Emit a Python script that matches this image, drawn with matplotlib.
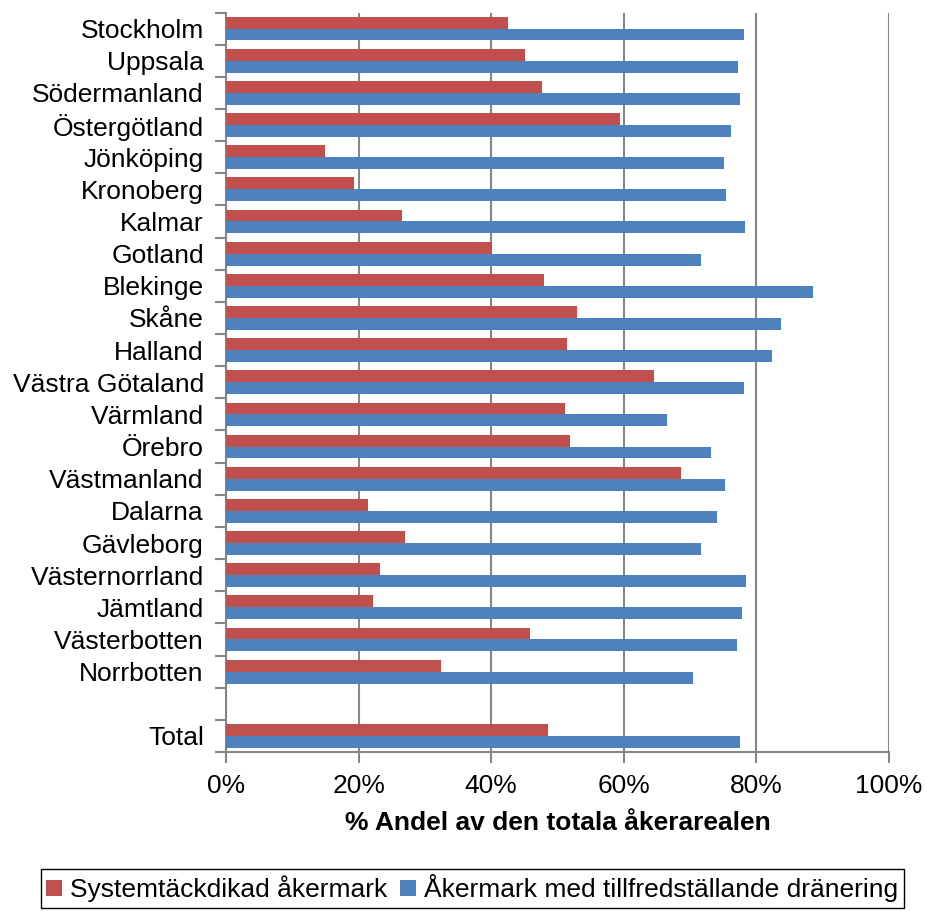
import matplotlib.pyplot as plt
import numpy as np

plt.rcParams['font.family'] = ['Liberation Sans', 'DejaVu Sans']

regions = ["Stockholm", "Uppsala", "Södermanland", "Östergötland", "Jönköping",
           "Kronoberg", "Kalmar", "Gotland", "Blekinge", "Skåne", "Halland",
           "Västra Götaland", "Värmland", "Örebro", "Västmanland", "Dalarna",
           "Gävleborg", "Västernorrland", "Jämtland", "Västerbotten",
           "Norrbotten", "", "Total"]

# percent of total arable land, "" row is an empty gap
systemtackdikad = [42.5, 45.1, 47.6, 59.4, 15.0, 19.3, 26.5, 40.1, 48.0, 53.0,
                   51.5, 64.5, 51.1, 51.9, 68.6, 21.4, 27.0, 23.3, 22.1, 45.8,
                   32.5, np.nan, 48.5]
tillfredstallande = [78.2, 77.3, 77.6, 76.1, 75.1, 75.4, 78.3, 71.7, 88.6, 83.7,
                     82.4, 78.1, 66.5, 73.1, 75.3, 74.0, 71.7, 78.5, 77.8, 77.1,
                     70.4, np.nan, 77.6]

red = "#C0504D"
blue = "#4F81BD"
grey = "#868686"

fig = plt.figure(figsize=(9.27, 9.11), dpi=100)
ax = fig.add_axes([226 / 927, 1 - 752 / 911, (889 - 226) / 927, (752 - 12.5) / 911])

y = np.arange(len(regions))
h = 0.37
ax.barh(y - h / 2, systemtackdikad, height=h, color=red,
        label="Systemtäckdikad åkermark", zorder=3)
ax.barh(y + h / 2, tillfredstallande, height=h, color=blue,
        label="Åkermark med tillfredställande dränering", zorder=3)

ax.set_ylim(len(regions) - 0.5, -0.5)
ax.set_xlim(0, 100)
ax.set_yticks(y)
ax.set_yticklabels(regions, fontsize=19)
ax.set_yticks(np.arange(len(regions) + 1) - 0.5, minor=True)
ax.tick_params(axis="y", which="major", length=0, pad=16)
ax.tick_params(axis="y", which="minor", length=8, color=grey, width=1.5)

ax.set_xticks(np.arange(0, 101, 20))
ax.set_xticklabels([f"{v}%" for v in range(0, 101, 20)], fontsize=19)
ax.tick_params(axis="x", length=8, color=grey, width=1.5, pad=8)
ax.xaxis.grid(True, color=grey, linewidth=1.5, zorder=0)

for side in ["top", "right"]:
    ax.spines[side].set_visible(False)
for side in ["left", "bottom"]:
    ax.spines[side].set_color(grey)
    ax.spines[side].set_linewidth(1.5)

ax.set_xlabel("% Andel av den totala åkerarealen", fontsize=19,
              fontweight="bold", labelpad=9)

fig.legend(loc="upper left", bbox_to_anchor=(41 / 927, 1 - 869 / 911),
           ncol=2, fontsize=19, frameon=True, fancybox=False,
           edgecolor="black", framealpha=1, handlelength=0.6,
           handleheight=0.6, handletextpad=0.3, columnspacing=0.5,
           borderpad=0.2, borderaxespad=0)

fig.savefig("out.png", dpi=100)
